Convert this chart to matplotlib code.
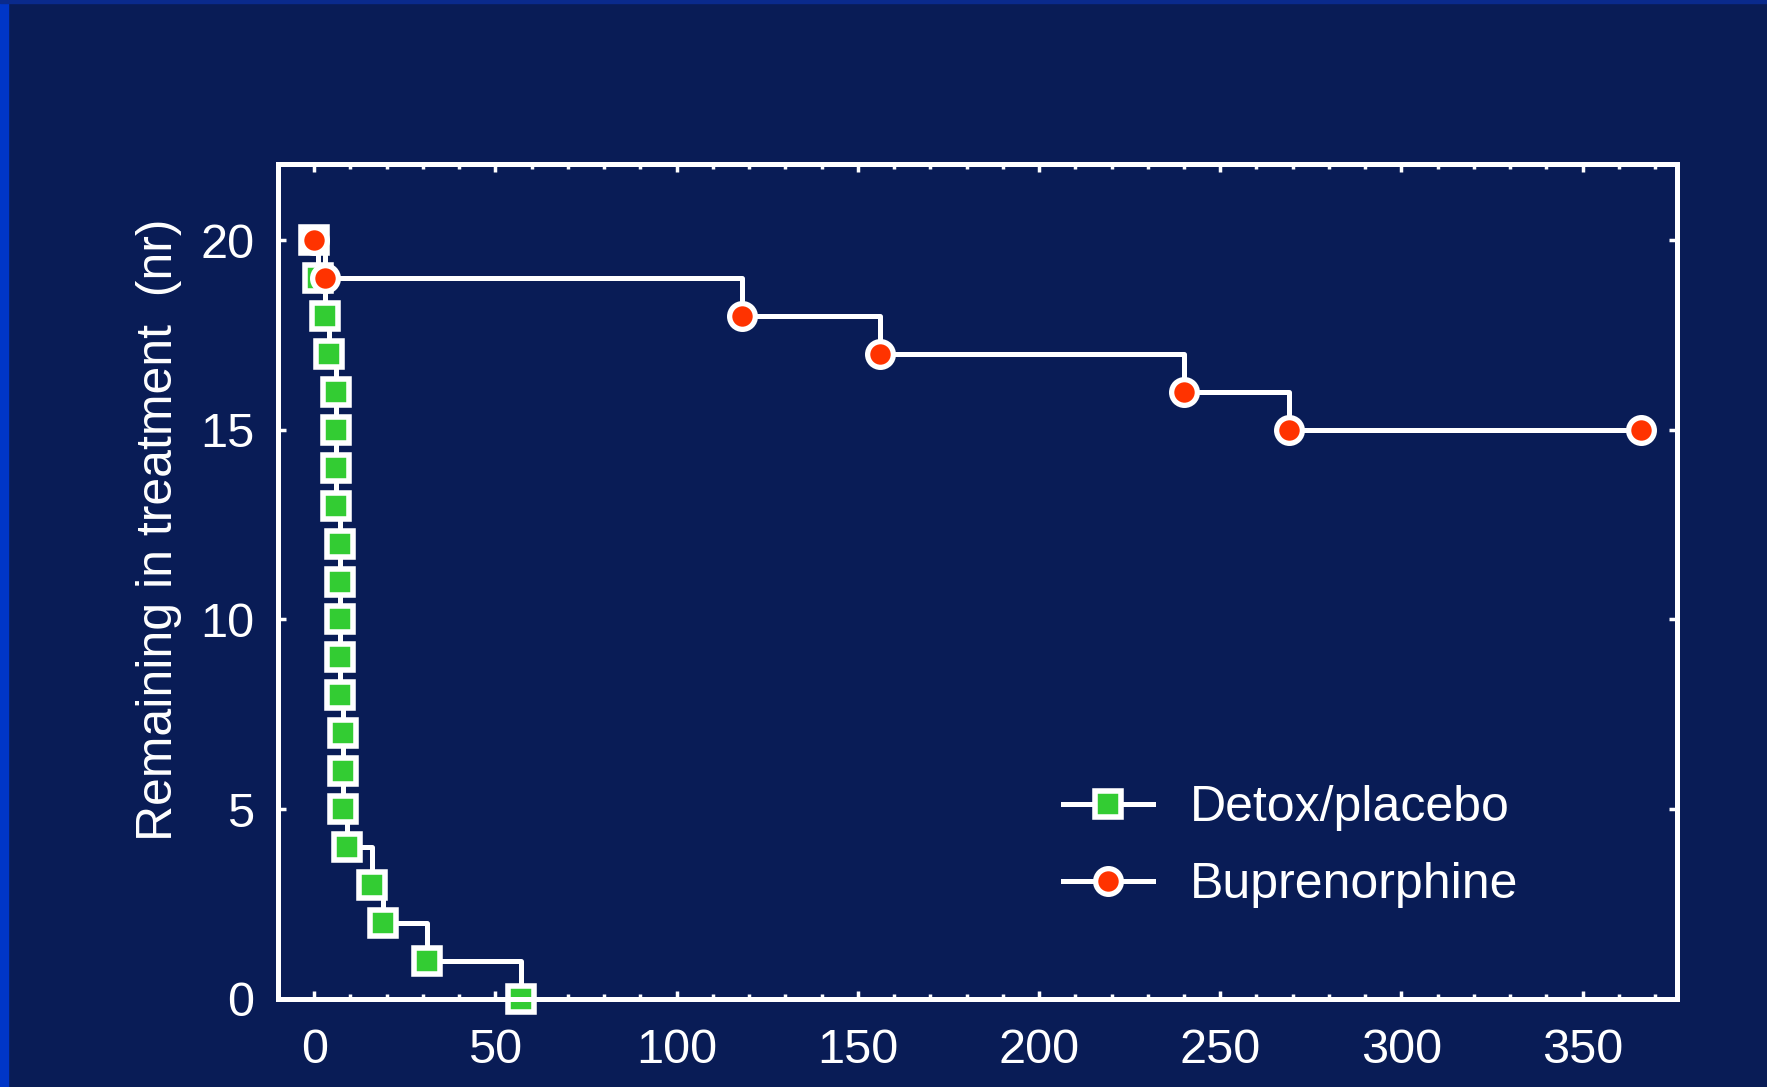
import matplotlib.pyplot as plt
from matplotlib.patches import Rectangle
from matplotlib.ticker import MultipleLocator

plt.rcParams['font.family'] = ['Liberation Sans', 'DejaVu Sans']

# kaplan-meier style counts
detox_days = [0, 1, 3, 4, 6, 6, 6, 6, 7, 7, 7, 7, 7, 8, 8, 8, 9, 16, 19, 31, 57]
detox_left = [20, 19, 18, 17, 16, 15, 14, 13, 12, 11, 10, 9, 8, 7, 6, 5, 4, 3, 2, 1, 0]
bup_days = [0, 3, 118, 156, 240, 269, 366]
bup_left = [20, 19, 18, 17, 16, 15, 15]

x_ticks = [0, 50, 100, 150, 200, 250, 300, 350]
y_ticks = [0, 5, 10, 15, 20]

bg = '#091C56'
fig = plt.figure(figsize=(17.67, 10.87), dpi=100, facecolor=bg)
# blue strips on the slide edge
fig.patches.append(Rectangle((0, 0), 8 / 1767, 1, transform=fig.transFigure,
                             color='#0036C8', zorder=0))
fig.patches.append(Rectangle((0, 1 - 3 / 1087), 1, 3 / 1087, transform=fig.transFigure,
                             color='#0A2A8C', zorder=0))

ax = fig.add_axes([0.1573, 0.081, 0.7917, 0.768])
ax.set_facecolor(bg)

ax.plot(detox_days, detox_left, drawstyle='steps-post', color='white', lw=3.6,
        marker='s', ms=19, mfc='#33CC33', mec='white', mew=4, clip_on=False,
        label='Detox/placebo')
ax.plot(bup_days, bup_left, drawstyle='steps-post', color='white', lw=3.6,
        marker='o', ms=18.5, mfc='#FF3300', mec='white', mew=3.8, clip_on=False,
        label='Buprenorphine')

ax.set_xlim(-10, 376)
ax.set_ylim(0, 22)
ax.set_xticks(x_ticks)
ax.set_yticks(y_ticks)
ax.xaxis.set_minor_locator(MultipleLocator(10))

for s in ax.spines.values():
    s.set_color('white')
    s.set_linewidth(3.6)

ax.tick_params(which='both', direction='in', top=True, right=True, colors='white',
               labelsize=35, width=2.5)
ax.tick_params(which='major', length=6, pad=17)
ax.tick_params(which='minor', length=3.5)
ax.tick_params(axis='x', which='major', pad=21)

ax.set_ylabel('Remaining in treatment  (nr)', color='white', fontsize=36, labelpad=13,
              y=0.562)

leg = ax.legend(loc='upper left', bbox_to_anchor=(0.561, 0.256), frameon=False,
                fontsize=36, handlelength=1.8, handletextpad=0.75, labelspacing=0.62,
                borderpad=0, borderaxespad=0)
for t in leg.get_texts():
    t.set_color('white')

fig.savefig('out.png', dpi=100, facecolor=bg)
